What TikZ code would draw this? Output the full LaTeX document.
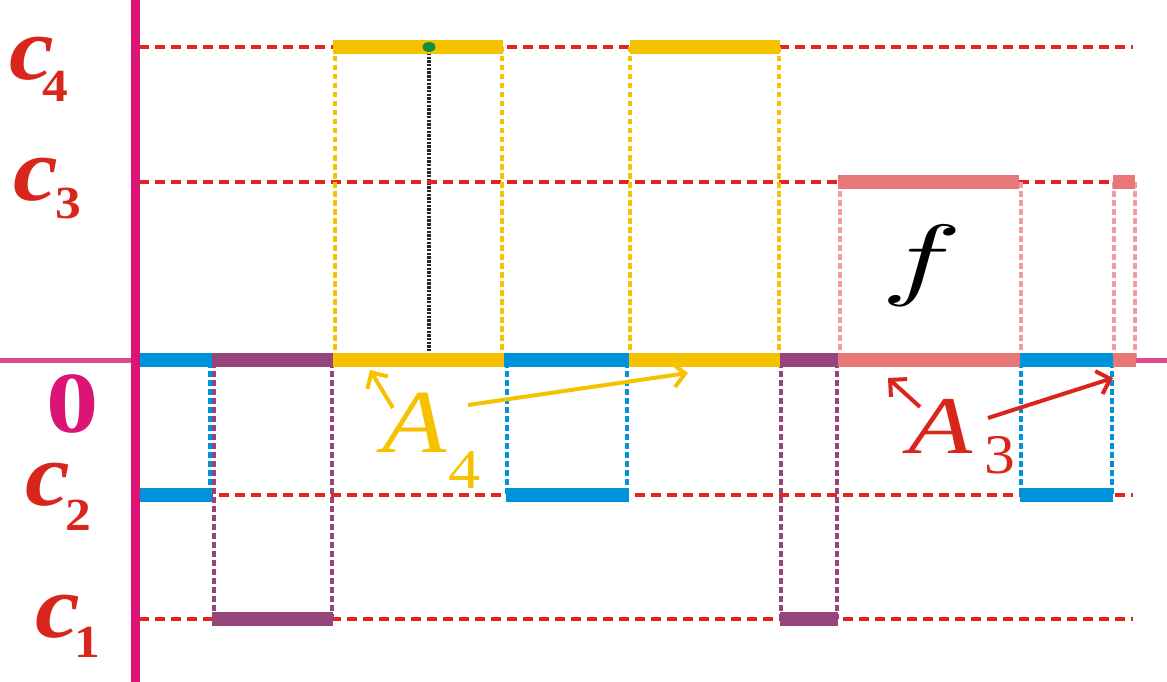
\documentclass[tikz,border=0pt]{standalone}
\usepackage{fontspec}
\setmainfont{Liberation Serif}
\usetikzlibrary{arrows.meta}
\definecolor{axmag}{HTML}{DC1476}
\definecolor{axpink}{HTML}{DB4B8D}
\definecolor{lvlred}{HTML}{E0261E}
\definecolor{labred}{HTML}{D9261C}
\definecolor{cblue}{HTML}{0092DA}
\definecolor{cpurp}{HTML}{96457A}
\definecolor{cyell}{HTML}{F6C200}
\definecolor{csalm}{HTML}{E87878}
\definecolor{clpink}{HTML}{F29CA6}
\definecolor{cgreen}{HTML}{0E8F45}
\tikzset{
  lvl/.style={draw=lvlred, line width=3.2pt, dash pattern=on 10pt off 6pt},
  bar/.style={line width=14pt, line cap=butt},
  vdot/.style={line width=4.8pt, dash pattern=on 5.5pt off 3.5pt},
  clab/.style={anchor=base west, inner sep=0pt, text=labred, font=\fontsize{90}{90}\selectfont\bfseries\itshape},
  slab/.style={anchor=base west, inner sep=0pt, text=labred, font=\fontsize{46}{46}\selectfont\bfseries},
  arr/.style={line width=4pt, -{Straight Barb[length=12pt,width=24pt,line width=4pt]}},
}
\begin{document}
\begin{tikzpicture}[x=1pt,y=-1pt]
\useasboundingbox (0,0) rectangle (1167,682);
% black line
\draw[black!85, line width=4.2pt, dash pattern=on 2.4pt off 1.3pt] (429,53) -- (429,353);
% level lines
\foreach \yy in {47,182,495,619} \draw[lvl] (139,\yy) -- (1133,\yy);
% horizontal axis
\draw[axpink, line width=5pt] (0,360) -- (1167,360);
% vertical dotted connectors
\draw[vdot, cblue] (210,362) -- (210,495);
\draw[vdot, cpurp] (214,362) -- (214,619) (332,362) -- (332,619);
\draw[vdot, cyell] (335,47) -- (335,358) (502,47) -- (502,358);
\draw[vdot, cblue] (507,362) -- (507,495) (627,362) -- (627,495);
\draw[vdot, cyell] (630,47) -- (630,358) (779,47) -- (779,358);
\draw[vdot, cpurp] (781,362) -- (781,619) (837,362) -- (837,619);
\draw[vdot, clpink] (840,182) -- (840,358) (1021,182) -- (1021,358);
\draw[vdot, cblue] (1021,362) -- (1021,495) (1112,362) -- (1112,495);
\draw[vdot, clpink] (1114,182) -- (1114,358) (1135,182) -- (1135,358);
% bars on the axis
\draw[bar, cblue] (140,360) -- (212,360);
\draw[bar, cpurp] (212,360) -- (333,360);
\draw[bar, cyell] (333,360) -- (504,360);
\draw[bar, cblue] (504,360) -- (629,360);
\draw[bar, cyell] (629,360) -- (780,360);
\draw[bar, cpurp] (780,360) -- (838,360);
\draw[bar, csalm] (838,360) -- (1020,360);
\draw[bar, cblue] (1020,360) -- (1113,360);
\draw[bar, csalm] (1113,360) -- (1136,360);
% bars on the levels
\draw[bar, cblue] (140,495) -- (212,495);
\draw[bar, cpurp] (212,619) -- (333,619);
\draw[bar, cyell] (333,47) -- (503,47);
\draw[bar, cblue] (506,495) -- (629,495);
\draw[bar, cyell] (630,47) -- (780,47);
\draw[bar, cpurp] (780,619) -- (838,619);
\draw[bar, csalm] (838,182) -- (1019,182);
\draw[bar, cblue] (1020,495) -- (1113,495);
\draw[bar, csalm] (1113,182) -- (1135,182);
% vertical axis
\draw[axmag, line width=9pt] (135,0) -- (135,682);
% green dot
\fill[cgreen] (429,47) ellipse [x radius=6.5pt, y radius=5pt];
% level labels
\node[clab] (c4c) at (9,80) {\scalebox{1.12}[1]{c}};
\node[slab] (c4s) at (42,102) {\scalebox{1.12}[1]{4}};
\node[clab] (c3c) at (13,200) {\scalebox{1.12}[1]{c}};
\node[slab] (c3s) at (55,218) {\scalebox{1.12}[1]{3}};
\node[clab] (c2c) at (25,505) {\scalebox{1.12}[1]{c}};
\node[slab] (c2s) at (65,530) {\scalebox{1.12}[1]{2}};
\node[clab] (c1c) at (35,637) {\scalebox{1.12}[1]{c}};
\node[slab] (c1s) at (74,657) {\scalebox{1.12}[1]{1}};
\node[anchor=base west, inner sep=0pt, text=axmag, font=\fontsize{87}{87}\selectfont\bfseries] (zero) at (46,432) {\scalebox{1.2}[1]{0}};
% f
\node[anchor=base west, inner sep=0pt] (ff) at (881,288) {\scalebox{13.5}[9.1]{$f$}};
% A labels
\node[anchor=base west, inner sep=0pt, text=cyell] (A4) at (382,452) {{\fontsize{90}{90}\selectfont\itshape\scalebox{1.17}[1]{A}}\hspace{2pt}\raisebox{-36pt}{\fontsize{56}{56}\selectfont\scalebox{1.15}[1]{4}}};
\node[anchor=base west, inner sep=0pt, text=labred] (A3) at (908,453) {{\fontsize{82}{82}\selectfont\itshape\scalebox{1.28}[1]{A}}\hspace{12pt}\raisebox{-20pt}{\fontsize{56}{56}\selectfont\scalebox{1.1}[1]{3}}};
\coordinate (a4t1) at (393,408); \coordinate (a4h1) at (370,370);
\coordinate (a4t2) at (468,405); \coordinate (a4h2) at (688,373);
\coordinate (a3t1) at (920,407); \coordinate (a3h1) at (888,378);
\coordinate (a3t2) at (988,418); \coordinate (a3h2) at (1113,378);
\draw[arr, cyell] (a4t1) -- (a4h1);
\draw[arr, cyell] (a4t2) -- (a4h2);
\draw[arr, labred] (a3t1) -- (a3h1);
\draw[arr, labred] (a3t2) -- (a3h2);
\end{tikzpicture}
\end{document}
